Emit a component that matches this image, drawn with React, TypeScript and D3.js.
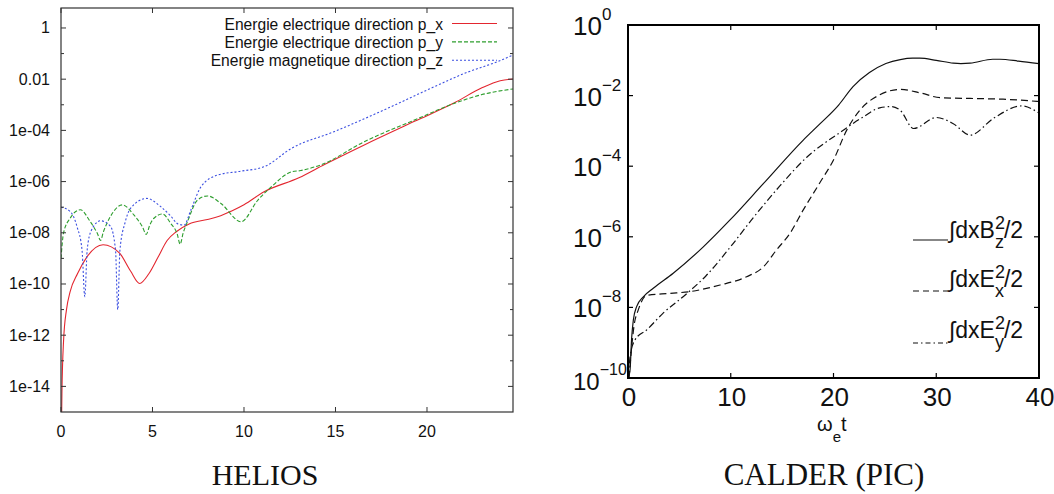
import React from 'react';
import * as d3 from 'd3';

type P = [number, number];

// ---------- HELIOS (left) data: [time, energy] ----------
const heliosPx: P[] = [
  [0.02, 1e-16], [0.05, 5e-15], [0.14, 6e-13], [0.3, 1e-11], [0.5, 5e-11], [0.9, 2.5e-10],
  [1.4, 1.1e-9], [2.3, 3.4e-9], [3.2, 1.6e-9], [3.8, 3.2e-10], [4.3, 1.05e-10], [4.8, 2.5e-10],
  [5.3, 1.1e-9], [5.8, 5e-9], [6.3, 1.1e-8], [7.0, 2.2e-8], [8.0, 3.3e-8], [8.6, 4.3e-8],
  [9.3, 7e-8], [10.0, 1.25e-7], [11.1, 4e-7], [13.0, 1.4e-6], [14.4, 4.6e-6], [16.6, 2.75e-5],
  [19.35, 2.3e-4], [21.55, 1.25e-3], [23.0, 4.6e-3], [24.0, 8.7e-3], [24.75, 1.02e-2],
];
const heliosPy: P[] = [
  [0.0, 1e-9], [0.14, 1e-8], [0.5, 3.7e-8], [1.06, 7.9e-8], [1.6, 2.7e-8], [2.0, 9e-9],
  [2.16, 5e-9], [2.32, 1.1e-8], [2.7, 4.3e-8], [3.35, 1.23e-7], [3.98, 5e-8], [4.45, 1.7e-8],
  [4.66, 8.7e-9], [4.85, 2e-8], [5.08, 3.7e-8], [5.54, 5.4e-8], [6.0, 2.3e-8], [6.35, 9e-9],
  [6.51, 3.6e-9], [6.68, 1e-8], [6.91, 2.7e-8], [7.46, 1.9e-7], [8.01, 2.75e-7], [8.74, 1.4e-7],
  [9.84, 2.7e-8], [10.76, 1.9e-7], [11.5, 6.3e-7], [12.6, 2.4e-6], [13.1, 2.7e-6],
  [14.23, 4.6e-6], [16.6, 3.7e-5], [19.35, 2.6e-4], [21.55, 1.17e-3], [23.0, 2.5e-3], [24.75, 4.2e-3],
];
const heliosPz: P[] = [
  [0.0, 1e-7], [0.5, 6.8e-8], [0.88, 1.7e-8], [1.15, 2.1e-9], [1.3, 3.2e-11], [1.43, 2.1e-9],
  [1.65, 1.2e-8], [2.16, 2.95e-8], [2.7, 1.8e-8], [2.98, 2.1e-9], [3.1, 1e-11], [3.22, 2.1e-9],
  [3.5, 2.5e-8], [3.8, 9e-8], [4.68, 2.2e-7], [5.45, 1.05e-7], [6.0, 4.5e-8], [6.4, 2.2e-8],
  [6.73, 2e-8], [7.1, 7.9e-8], [7.65, 6.3e-7], [8.56, 1.8e-6], [9.66, 2.45e-6], [11.1, 3.8e-6],
  [12.6, 2e-5], [14.96, 9.1e-5], [17.5, 5.6e-4], [20.27, 4.6e-3], [22.1, 1.74e-2],
  [23.9, 5e-2], [24.75, 9.1e-2],
];
const heliosLabels = ['Energie electrique direction p_x', 'Energie electrique direction p_y', 'Energie magnetique direction p_z'];
const heliosYTicks = [1, 1e-2, 1e-4, 1e-6, 1e-8, 1e-10, 1e-12, 1e-14];
const heliosYTickLabels = ['1', '0.01', '1e-04', '1e-06', '1e-08', '1e-10', '1e-12', '1e-14'];
const heliosYMinor = [1e-1, 1e-3, 1e-5, 1e-7, 1e-9, 1e-11, 1e-13];
const heliosXTicks = [0, 5, 10, 15, 20];

// ---------- CALDER (right) data ----------
const calderBz: P[] = [
  [0.02, 1e-10], [0.2, 1.7e-10], [0.35, 1.3e-9], [0.52, 4.4e-9], [0.84, 1.05e-8], [1.49, 2e-8],
  [2.46, 3.5e-8], [4.4, 9.3e-8], [7.33, 5.2e-7], [9.93, 3e-6], [13.17, 3.2e-5], [17.06, 5.5e-4],
  [18.7, 1.6e-3], [20.5, 5.4e-3], [21.9, 1.8e-2], [23.5, 4.5e-2], [25.1, 8.1e-2], [26.5, 0.105],
  [27.7, 0.115], [28.4, 0.115], [30.0, 0.1], [31.66, 0.083], [32.4, 0.081], [33.3, 0.083],
  [35.5, 0.107], [36.2, 0.107], [38.0, 0.095], [40.0, 0.08],
];
const calderEx: P[] = [
  [0.1, 1e-10], [0.3, 5e-10], [0.6, 3.2e-9], [1.0, 8.5e-9], [1.82, 2.2e-8], [4.09, 2.5e-8],
  [6.0, 2.8e-8], [8.96, 4.3e-8], [11.55, 7.4e-8], [13.17, 1.4e-7], [14.47, 4.3e-7], [15.77, 1.26e-6],
  [17.06, 5.8e-6], [18.7, 3.5e-5], [20.0, 1.5e-4], [21.3, 1.07e-3], [22.58, 3.9e-3], [24.5, 1.05e-2],
  [26.5, 1.5e-2], [28.4, 1.2e-2], [30.4, 8.7e-3], [33.3, 8.3e-3], [36.5, 7.9e-3], [40.0, 6.8e-3],
];
const calderEy: P[] = [
  [0.05, 1e-10], [0.2, 4e-10], [0.68, 1.2e-9], [1.82, 2.3e-9], [3.4, 6.8e-9], [5.68, 2.4e-8],
  [7.6, 7.9e-8], [9.93, 5e-7], [12.2, 3.5e-6], [14.8, 2.8e-5], [17.4, 1.8e-4], [20.6, 8.9e-4],
  [22.9, 2.5e-3], [24.5, 4.5e-3], [25.7, 4.9e-3], [26.5, 3.8e-3], [27.8, 1.17e-3], [30.0, 2.4e-3],
  [31.66, 1.6e-3], [33.3, 7.6e-4], [35.6, 2.3e-3], [38.3, 5.1e-3], [40.0, 3.2e-3],
];
const calderLegendSub = ['z', 'x', 'y'];
const calderLegendVar = ['B', 'E', 'E'];
const calderYExps = [0, -2, -4, -6, -8, -10];
const calderXTicks = [0, 10, 20, 30, 40];

const SANS = '"Liberation Sans", Arial, Helvetica, sans-serif';
const SERIF = '"Liberation Serif", "Times New Roman", serif';

export default function App() {
  // ---- left scales
  const xL = d3.scaleLinear().domain([0, 24.7]).range([61, 513]);
  const yL = d3.scaleLog().domain([1e-15, Math.pow(10, 0.78)]).range([412, 8]);
  const lineL = d3.line<P>().x(d => xL(d[0])).y(d => yL(d[1])).curve(d3.curveMonotoneX);

  // ---- right scales
  const xR = d3.scaleLinear().domain([0, 40]).range([628, 1039]);
  const yR = d3.scaleLog().domain([1e-10, 1]).range([378, 25]);
  const lineR = d3.line<P>().x(d => xR(d[0])).y(d => yR(d[1])).curve(d3.curveMonotoneX);

  const colsL = ['#e3262f', '#2e9e2e', '#3b4fe0'];
  const dashL = ['none', '4,2', '2,2'];
  const seriesL = [heliosPx, heliosPy, heliosPz];

  const dashR = ['none', '7,4', '7,3,1.5,3'];
  const seriesR = [calderBz, calderEx, calderEy];

  const [l0, l1] = xL.range();
  const [lb, lt] = yL.range();
  const [r0, r1] = xR.range();
  const [rb, rt] = yR.range();

  const legLineY = [240, 291, 343];
  const legTextY = [238, 287, 338];

  return (
    <svg width={1054} height={494} style={{ position: 'absolute', left: 0, top: 0, background: '#fff' }}>
      <defs>
        <clipPath id="clipL"><rect x={l0} y={lt} width={l1 - l0} height={lb - lt} /></clipPath>
        <clipPath id="clipR"><rect x={r0} y={rt} width={r1 - r0} height={rb - rt} /></clipPath>
      </defs>
      <rect x={0} y={0} width={1054} height={494} fill="#fff" />

      {/* ================= LEFT: HELIOS ================= */}
      <g clipPath="url(#clipL)">
        {seriesL.map((s, i) => (
          <path key={i} d={lineL(s) || ''} fill="none" stroke={colsL[i]} strokeWidth={1.1} strokeDasharray={dashL[i]} />
        ))}
      </g>
      <rect x={l0} y={lt} width={l1 - l0} height={lb - lt} fill="none" stroke="#333" strokeWidth={1.2} />
      {heliosYTicks.map((t, i) => (
        <g key={'ly' + i}>
          <line x1={l0} x2={l0 + 5} y1={yL(t)} y2={yL(t)} stroke="#333" />
          <line x1={l1} x2={l1 - 5} y1={yL(t)} y2={yL(t)} stroke="#333" />
          <text x={50} y={yL(t) + 5.5} textAnchor="end" fontFamily={SANS} fontSize={16} fill="#111">{heliosYTickLabels[i]}</text>
        </g>
      ))}
      {heliosYMinor.map((t, i) => (
        <g key={'lym' + i}>
          <line x1={l0} x2={l0 + 3} y1={yL(t)} y2={yL(t)} stroke="#333" />
          <line x1={l1} x2={l1 - 3} y1={yL(t)} y2={yL(t)} stroke="#333" />
        </g>
      ))}
      {heliosXTicks.map((t, i) => (
        <g key={'lx' + i}>
          <line x1={xL(t)} x2={xL(t)} y1={lb} y2={lb - 5} stroke="#333" />
          <line x1={xL(t)} x2={xL(t)} y1={lt} y2={lt + 5} stroke="#333" />
          <text x={xL(t)} y={437} textAnchor="middle" fontFamily={SANS} fontSize={16} fill="#111">{t}</text>
        </g>
      ))}
      {heliosLabels.map((lab, i) => (
        <g key={'lleg' + i}>
          <text x={443} y={29.5 + i * 18.4} textAnchor="end" fontFamily={SANS} fontSize={15.6} fill="#111">{lab}</text>
          <line x1={452} x2={497} y1={23.5 + i * 18.4} y2={23.5 + i * 18.4} stroke={colsL[i]} strokeWidth={1.1} strokeDasharray={dashL[i]} />
        </g>
      ))}
      <text x={265} y={485} textAnchor="middle" fontFamily={SERIF} fontSize={30} fill="#111">HELIOS</text>

      {/* ================= RIGHT: CALDER ================= */}
      <g clipPath="url(#clipR)">
        {seriesR.map((s, i) => (
          <path key={i} d={lineR(s) || ''} fill="none" stroke="#111" strokeWidth={1.2} strokeDasharray={dashR[i]} />
        ))}
      </g>
      <rect x={r0} y={rt} width={r1 - r0} height={rb - rt} fill="none" stroke="#000" strokeWidth={2} />
      {calderYExps.map((e, i) => {
        const y = yR(Math.pow(10, e));
        const inner = e !== 0 && e !== -10;
        return (
          <g key={'ry' + i}>
            {inner && <line x1={r0} x2={r0 + 5} y1={y} y2={y} stroke="#000" strokeWidth={1.2} />}
            {inner && <line x1={r1} x2={r1 - 5} y1={y} y2={y} stroke="#000" strokeWidth={1.2} />}
            <text x={573} y={y + (e === -10 ? 12 : 10)} fontFamily={SANS} fontSize={e === -10 ? 24 : 26} fill="#111">
              10<tspan dy={-15} fontSize={e === -10 ? 16 : 17}>{e === 0 ? '0' : '\u2212' + Math.abs(e)}</tspan>
            </text>
          </g>
        );
      })}
      {calderXTicks.map((t, i) => {
        const x = xR(t);
        const inner = t !== 0 && t !== 40;
        return (
          <g key={'rx' + i}>
            {inner && <line x1={x} x2={x} y1={rb} y2={rb - 5} stroke="#000" strokeWidth={1.2} />}
            {inner && <line x1={x} x2={x} y1={rt} y2={rt + 5} stroke="#000" strokeWidth={1.2} />}
            <text x={x + 1} y={406} textAnchor="middle" fontFamily={SANS} fontSize={26} fill="#111">{t}</text>
          </g>
        );
      })}
      <text x={817} y={431} fontFamily={SANS} fontSize={20} fill="#111">
        ω<tspan dy={11} fontSize={15}>e</tspan><tspan dy={-11} fontSize={20}>t</tspan>
      </text>
      {calderLegendSub.map((sub, i) => (
        <g key={'rleg' + i}>
          <line x1={913} x2={948} y1={legLineY[i]} y2={legLineY[i]} stroke="#111" strokeWidth={1.2} strokeDasharray={dashR[i] === 'none' ? 'none' : (i === 1 ? '6,4' : '5,3,1.5,3')} />
          <text x={949} y={legTextY[i]} fontFamily={SANS} fontSize={23} fill="#111">
            ∫dx{calderLegendVar[i]}
            <tspan dy={-9} fontSize={18}>2</tspan>
            <tspan dx={-10} dy={19} fontSize={18}>{sub}</tspan>
            <tspan dy={-10} fontSize={23}>/2</tspan>
          </text>
        </g>
      ))}
      <text x={824} y={485} textAnchor="middle" fontFamily={SERIF} fontSize={31} fill="#111">CALDER (PIC)</text>
    </svg>
  );
}
